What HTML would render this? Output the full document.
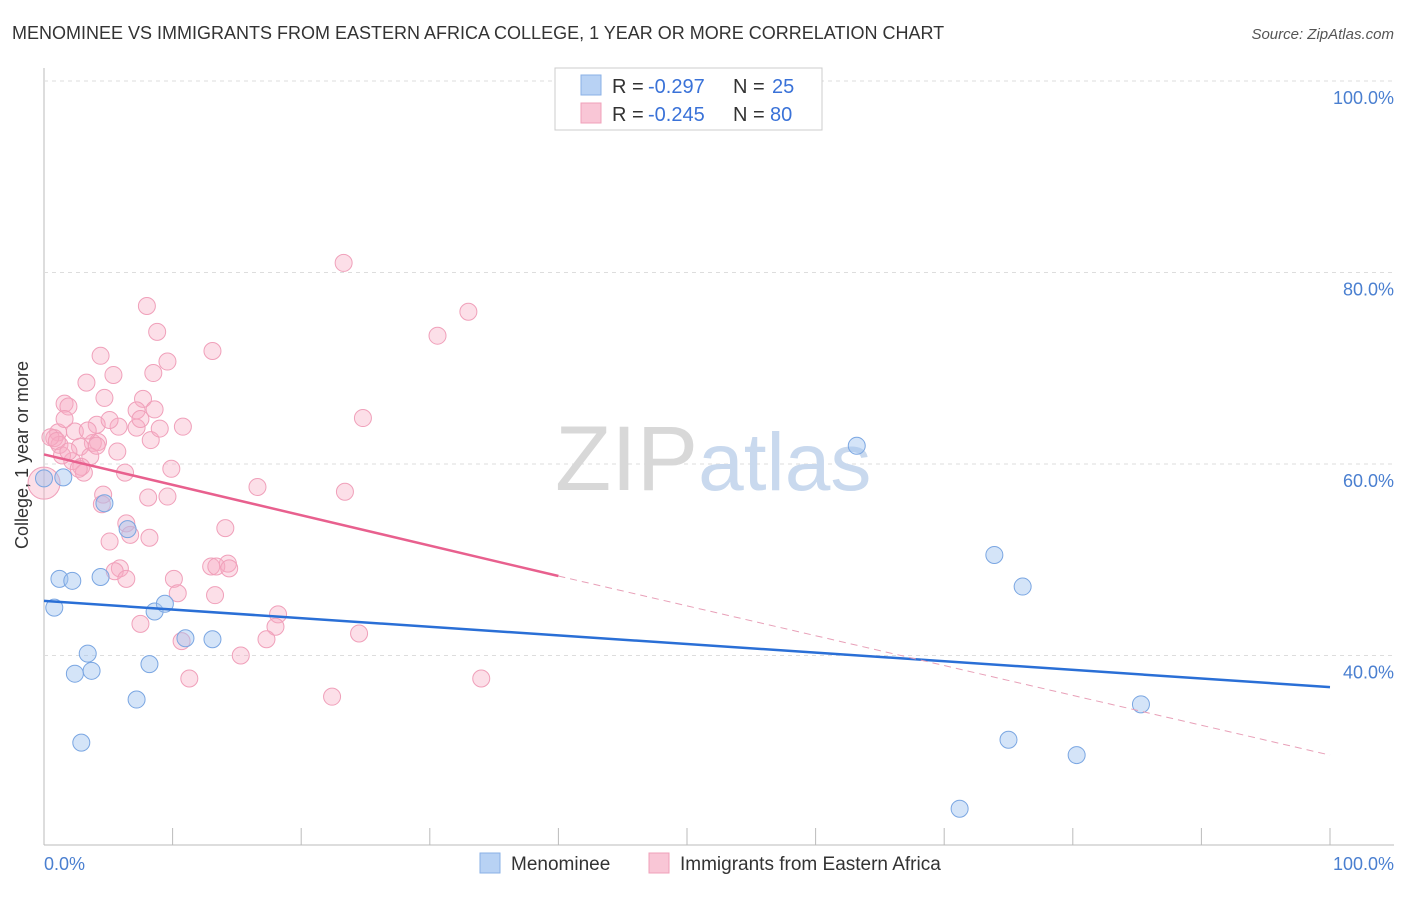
<!DOCTYPE html>
<html><head><meta charset="utf-8"><style>
body{margin:0;background:#fff;font-family:"Liberation Sans",sans-serif;}
svg text{font-family:"Liberation Sans",sans-serif;}
</style></head><body>
<svg width="1406" height="892" xmlns="http://www.w3.org/2000/svg">
<text x="12" y="39" font-size="18" fill="#333">MENOMINEE VS IMMIGRANTS FROM EASTERN AFRICA COLLEGE, 1 YEAR OR MORE CORRELATION CHART</text>
<text x="1394" y="39" font-size="15" fill="#555" text-anchor="end" font-style="italic">Source: ZipAtlas.com</text>
<g id="grid"></g>
<text x="555" y="490" font-size="92" fill="#d8d8d8" font-family="Liberation Serif">ZIP<tspan fill="#c9d9ee" font-family="Liberation Sans" font-size="82">atlas</tspan></text>
<g id="pts"></g>
<g id="lines"></g>
<text x="28" y="455" font-size="18" fill="#333" text-anchor="middle" transform="rotate(-90 28 455)">College, 1 year or more</text>
<text x="44" y="870" font-size="18" fill="#4a7fd0">0.0%</text>
<text x="1394" y="870" font-size="18" fill="#4a7fd0" text-anchor="end">100.0%</text>
<g>
<rect x="555" y="68" width="267" height="62" fill="#fff" stroke="#ccc"/>
<rect x="581" y="75" width="20" height="20" fill="#b8d2f4" stroke="#8ab0e6"/>
<rect x="581" y="103" width="20" height="20" fill="#f9c6d6" stroke="#f0a0ba"/>
<text x="612" y="93" font-size="20" fill="#333">R =</text><text x="648" y="93" font-size="20" fill="#3a72d8">-0.297</text>
<text x="733" y="93" font-size="20" fill="#333">N =</text><text x="772" y="93" font-size="20" fill="#3a72d8">25</text>
<text x="612" y="121" font-size="20" fill="#333">R =</text><text x="648" y="121" font-size="20" fill="#3a72d8">-0.245</text>
<text x="733" y="121" font-size="20" fill="#333">N =</text><text x="770" y="121" font-size="20" fill="#3a72d8">80</text>
</g>
<g>
<rect x="480" y="853" width="20" height="20" fill="#b8d2f4" stroke="#8ab0e6"/>
<text x="511" y="870" font-size="19" fill="#333">Menominee</text>
<rect x="649" y="853" width="20" height="20" fill="#f9c6d6" stroke="#f0a0ba"/>
<text x="680" y="870" font-size="19" fill="#333">Immigrants from Eastern Africa</text>
</g>
</svg>
<script>
const yTicks=[100,80,60,40];
const xTicks=[0,10,20,30,40,50,60,70,80,90,100];
const blueX=[0,1.5,0.8,1.2,2.2,4.4,4.7,6.5,3.4,2.4,3.7,2.9,7.2,8.2,8.6,9.4,11,13.1,63.2,73.9,76.1,85.3,75,80.3,71.2];
const blueY=[58.5,58.6,45,48,47.8,48.2,55.9,53.2,40.2,38.1,38.4,30.9,35.4,39.1,44.6,45.4,41.8,41.7,61.9,50.5,47.2,34.9,31.2,29.6,24];
const pinkX=[23.3,33,8,30.6,8.8,13.1,4.4,9.6,5.4,8.5,3.3,7.7,4.7,1.6,1.9,8.6,7.2,24.8,10.8,4.1,5.8,7.2,2.4,1.1,5.1,1.6,0.8,8.3,3.8,4.2,1.2,2.8,5.7,3.6,2.2,2.9,9.9,3.1,2.7,16.6,23.4,4.6,8.1,9.6,4.5,6.4,14.1,6.7,8.2,5.1,14.3,13,13.4,14.4,5.9,5.5,6.4,10.1,10.4,13.3,18.2,7.5,18,24.5,10.7,17.3,15.3,11.3,34,22.4,0,0.5,1,3.4,1.4,9,6.3,4.1,7.5,1.9];
const pinkY=[81,75.9,76.5,73.4,73.8,71.8,71.3,70.7,69.3,69.5,68.5,66.8,66.9,66.3,66,65.7,65.6,64.8,63.9,64.1,63.9,63.8,63.4,63.3,64.6,64.7,62.7,62.5,62.2,62.3,62,61.8,61.3,60.8,60.3,59.7,59.5,59.1,59.5,57.6,57.1,56.8,56.5,56.6,55.8,53.8,53.3,52.6,52.3,51.9,49.6,49.3,49.3,49.1,49.1,48.8,48,48,46.5,46.3,44.3,43.3,43,42.3,41.5,41.7,40,37.6,37.6,35.7,58,62.8,62.4,63.5,60.9,63.7,59.1,61.9,64.7,61.3];
const blueTrend=[[0,45.7],[100,36.7]];
const pinkTrend=[[0,61],[40,48.3],[100,29.6]];
const X=v=>44+v*12.86, Y=v=>81+(100-v)*9.575;
const NS="http://www.w3.org/2000/svg";
function mk(tag,attrs,parent){const e=document.createElementNS(NS,tag);for(const k in attrs)e.setAttribute(k,attrs[k]);parent.appendChild(e);return e;}
const grid=document.getElementById('grid');
mk('line',{x1:44,y1:68,x2:44,y2:845,stroke:'#bbb'},grid);
mk('line',{x1:44,y1:845,x2:1394,y2:845,stroke:'#bbb'},grid);
yTicks.forEach(t=>{const l=mk('line',{x1:44,x2:1394,y1:Y(t),y2:Y(t),stroke:'#ddd','stroke-dasharray':'4,4'},grid);


const tx=mk('text',{x:1394,y:Y(t)+23,'font-size':18,fill:'#4a7fd0','text-anchor':'end'},grid);tx.textContent=t.toFixed(1)+'%';

});
xTicks.forEach(t=>{const l=mk('line',{x1:X(t),x2:X(t),y1:828,y2:845,stroke:'#bbb'},grid);

});
const pts=document.getElementById('pts');
pinkX.forEach((x,i)=>{const c=mk('circle',{cx:X(x),cy:Y(pinkY[i]),r:i==70?16:8.5,fill:'rgba(246,170,195,0.38)',stroke:'#f0a0ba','stroke-width':1},pts);

});
blueX.forEach((x,i)=>{const c=mk('circle',{cx:X(x),cy:Y(blueY[i]),r:8.5,fill:'rgba(160,195,240,0.45)',stroke:'#7aa6e2','stroke-width':1},pts);

});
const lines=document.getElementById('lines');
const b=mk('line',{x1:X(blueTrend[0][0]),y1:Y(blueTrend[0][1]),x2:X(blueTrend[1][0]),y2:Y(blueTrend[1][1]),stroke:'#2a6fd6','stroke-width':2.5},lines);


const p=mk('line',{x1:X(pinkTrend[0][0]),y1:Y(pinkTrend[0][1]),x2:X(pinkTrend[1][0]),y2:Y(pinkTrend[1][1]),stroke:'#e8608e','stroke-width':2.5},lines);


const pd=mk('line',{x1:X(pinkTrend[1][0]),y1:Y(pinkTrend[1][1]),x2:X(pinkTrend[2][0]),y2:Y(pinkTrend[2][1]),stroke:'#e8a0b8','stroke-width':1,'stroke-dasharray':'7,5'},lines);


</script>
</body></html>
